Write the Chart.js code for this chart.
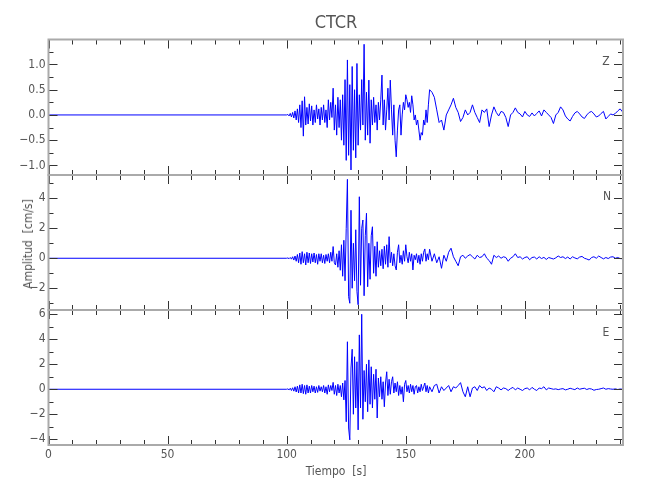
<!DOCTYPE html>
<html>
<head>
<meta charset="utf-8">
<script src="https://cdn.jsdelivr.net/npm/chart.js@4.4.1/dist/chart.umd.min.js"></script>
<style>
  body { margin: 0; background: #fff; }
  #wrap { position: relative; width: 650px; height: 500px; font-family: 'Liberation Sans Narrow', 'DejaVu Sans Condensed', sans-serif; color: #555; }
  canvas { position: absolute; left: 0; top: 0; }
  .txt { position: absolute; white-space: nowrap; line-height: 1; transform: translate(-50%, -50%); }
</style>
</head>
<body>
<div id="wrap">
  <canvas id="cz" width="650" height="500"></canvas>
  <canvas id="cn" width="650" height="500"></canvas>
  <canvas id="ce" width="650" height="500"></canvas>
  <div class="txt" style="left:336px; top:22px; font-size:18px;">CTCR</div>
  <div class="txt" style="left:28px; top:244px; font-size:12px; transform:translate(-50%,-50%) rotate(-90deg);">Amplitud&nbsp;&nbsp;[cm/s]</div>
  <div class="txt" style="left:336px; top:471px; font-size:12px;">Tiempo&nbsp;&nbsp;[s]</div>
  <div class="txt" style="left:606px; top:61px; font-size:12px;">Z</div>
  <div class="txt" style="left:607px; top:196px; font-size:12px;">N</div>
  <div class="txt" style="left:606px; top:332px; font-size:12px;">E</div>
</div>
<script>
// muestreo: cada 0.5 s entre 100 y 160 s, cada 1 s entre 161 y 241 s
const denseStart = 100, denseStep = 0.5;
const tailStart = 161, tailStep = 1;

const xTicks = [0, 50, 100, 150, 200];
const zTicks = [-1, -0.5, 0, 0.5, 1];
const nTicks = [-2, 0, 2, 4];
const eTicks = [-4, -2, 0, 2, 4, 6];

// componente Z
const zDense = [
  0, 0.01, -0.02, 0.03, -0.04, 0.05, -0.06, 0.08, -0.1, 0.12,
  -0.15, 0.2, -0.25, 0.28, -0.42, 0.36, -0.2, 0.15, -0.18, 0.22,
  -0.12, 0.18, -0.2, 0.1, -0.15, 0.2, -0.08, 0.12, -0.2, 0.15,
  -0.1, 0.2, -0.15, 0.1, -0.25, 0.3, -0.1, 0.25, -0.05, 0.53,
  -0.3, 0.2, -0.4, 0.35, -0.25, 0.3, -0.5, 0.4, -0.6, 0.7,
  -0.9, 1.09, -0.8, 0.6, -1.09, 0.96, -0.7, 0.5, -0.85, 1.02,
  -0.6, 0.4, -0.3, 0.7, -0.2, 1.40, -0.5, 0.45, -0.4, 0.69,
  -0.56, 0.3, -0.2, 0.35, -0.15, 0.2, -0.3, 0.25, -0.1, 0.3,
  0.79, -0.2, 0.3, -0.3, 0.1, 0.53, -0.1, 0.69, 0.1, -0.4,
  0.2, -0.5, -0.83, -0.3, 0.1, 0.2, -0.4, 0.0, 0.25, 0.1,
  0.4, 0.3, 0.15, 0.25, 0.05, 0.38, 0.2, -0.1, 0.0, -0.2,
  -0.1, -0.3, -0.5, -0.35, -0.4, -0.1, -0.2, 0.1, -0.15, 0.2,
  0.5
];
const zTail = [
  0.45, 0.35, 0.1, -0.15, -0.1, -0.3, 0.0, 0.1, 0.2, 0.33,
  0.15, 0.05, -0.13, -0.05, 0.1, 0.0, 0.05, 0.2, 0.05, -0.05,
  -0.15, 0.1, 0.05, 0.12, -0.23, 0.0, 0.16, 0.05, -0.02, 0.07,
  0.05, -0.05, -0.23, 0.0, 0.05, 0.14, 0.05, 0.02, -0.04, 0.07,
  0.0, -0.03, 0.04, -0.02, 0.03, 0.08, -0.02, 0.1, 0.05, 0.0,
  -0.05, -0.17, 0.0, 0.05, 0.16, 0.1, -0.02, -0.08, -0.12, -0.03,
  0.04, 0.07, 0.02, -0.04, -0.07, 0.0, 0.05, 0.07, 0.02, -0.04,
  -0.02, 0.03, 0.07, -0.08, -0.03, 0.02, 0.0, 0.03, 0.08, 0.12, 0.06
];

// componente N
const nDense = [
  0, 0.02, -0.03, 0.05, -0.06, 0.1, -0.12, 0.15, -0.2, 0.25,
  -0.3, 0.35, -0.4, 0.44, -0.3, 0.3, -0.45, 0.4, -0.3, 0.35,
  -0.35, 0.3, -0.25, 0.35, -0.3, 0.25, -0.4, 0.3, -0.2, 0.3,
  -0.3, 0.2, -0.35, 0.25, -0.2, 0.3, -0.3, 0.4, -0.2, 0.78,
  -0.3, -0.45, 0.3, -0.6, 0.5, -0.8, 0.9, -1.2, 1.2, -1.5,
  2.0, 5.26, -2.56, -3.0, 3.2, -2.0, 1.0, -1.5, 1.9, -2.2,
  -3.1, 4.1, -1.8, 2.0, 2.55, -2.5, 1.5, 3.0, -1.9, 1.0,
  -1.4, 1.5, 2.1, -1.0, 0.8, -1.2, 1.1, -0.6, 0.5, -0.5,
  0.6, -0.7, 0.8, -0.4, 0.9, -0.6, 1.44, -0.3, 0.4, -0.5,
  0.3, -0.5, -0.78, 0.4, 0.9, -0.3, 0.2, -0.4, 0.5, -0.2,
  0.9, 0.1, -0.3, 0.4, -0.2, 0.3, -0.78, 0.2, -0.1, 0.3,
  -0.3, 0.2, -0.4, 0.3, -0.2, 0.4, 0.62, -0.2, 0.3, -0.1,
  0.6
];
const nTail = [
  -0.2, 0.3, -0.3, 0.1, -0.67, 0.2, -0.2, 0.4, 0.67, 0.1,
  -0.2, -0.5, 0.1, 0.2, 0.0, 0.15, 0.25, 0.1, -0.05, 0.2,
  0.05, 0.1, 0.3, 0.0, -0.15, -0.4, 0.2, 0.05, 0.15, 0.0,
  0.1, 0.05, -0.2, 0.0, 0.1, 0.3, 0.05, 0.1, -0.05, 0.05,
  0.1, -0.1, 0.05, 0.08, -0.05, 0.1, -0.02, 0.06, -0.08, 0.05,
  0.0, -0.05, 0.03, 0.15, 0.05, 0.1, -0.02, 0.08, -0.05, 0.1,
  0.02, -0.04, 0.08, 0.12, 0.0, -0.05, -0.12, 0.05, 0.1, 0.0,
  0.15, 0.05, -0.04, 0.05, -0.02, 0.08, 0.1, 0.0, 0.05, -0.02, -0.03
];

// componente E
const eDense = [
  0, 0.03, -0.05, 0.08, -0.1, 0.12, -0.15, 0.2, -0.22, 0.25,
  -0.3, 0.35, -0.3, 0.4, -0.35, 0.3, -0.4, 0.35, -0.3, 0.25,
  -0.3, 0.3, -0.2, 0.25, -0.3, 0.2, -0.25, 0.3, -0.15, 0.2,
  -0.2, 0.3, -0.3, 0.2, -0.4, 0.35, -0.2, 0.3, -0.1, 0.55,
  -0.4, 0.3, -0.5, 0.4, -0.3, 0.3, -0.6, 0.5, -0.85, 0.7,
  -2.6, 3.8, -3.1, -4.05, 1.7, 3.2, -2.0, 2.6, -1.5, 2.2,
  -3.25, 4.35, -1.5, 6.0, -2.4, 1.5, -1.0, 2.0, -1.8, 2.35,
  -1.2, 1.8, -1.5, 1.2, -0.8, 1.6, -2.3, 0.9, -0.6, 1.0,
  -0.8, 0.6, -1.4, 0.5, 1.4, -0.5, 0.8, -0.4, 0.6, 1.0,
  -0.3, 0.5, -0.2, 0.6, -0.5, 0.3, -0.4, 0.2, -1.0, 0.4,
  0.7, -0.2, 0.3, -0.3, 0.4, -0.2, 0.3, -0.4, 0.2, 0.3,
  -0.3, 0.2, -0.2, 0.4, -0.1, 0.2, 0.5, -0.2, 0.3, -0.3,
  0.2
];
const eTail = [
  -0.2, 0.3, 0.4, -0.3, 0.2, -0.1, 0.1, 0.3, -0.2, 0.2,
  0.1, 0.3, 0.53, -0.2, -0.6, 0.2, -0.6, 0.1, 0.2, -0.1,
  0.3, 0.1, 0.2, -0.1, 0.1, 0.0, -0.2, 0.2, 0.1, -0.05,
  0.1, 0.05, -0.1, 0.05, 0.15, -0.05, 0.1, 0.0, -0.1, 0.05,
  0.1, -0.05, 0.15, 0.0, -0.1, 0.1, 0.05, 0.2, -0.05, 0.1,
  0.05, 0.0, 0.03, -0.03, 0.02, 0.05, -0.05, 0.0, 0.08, 0.02,
  -0.03, 0.1, 0.0, 0.05, 0.08, -0.02, 0.05, 0.02, -0.08, -0.02,
  0.0, 0.05, 0.1, 0.0, 0.05, 0.02, 0.0, 0.03, -0.02, 0.02, 0.0
];

function serie(dense, tail) {
  const pts = [{x: 0, y: 0}];
  dense.forEach((v, i) => pts.push({x: denseStart + i * denseStep, y: v}));
  tail.forEach((v, i) => pts.push({x: tailStart + i * tailStep, y: v}));
  return pts;
}

const fuente = {family: "'Liberation Sans Narrow', 'DejaVu Sans Condensed', sans-serif", size: 12};
const gris = '#555';
const menos = s => s.replace('-', '\u2212');

const paneles = [
  {id: 'cz', data: serie(zDense, zTail), min: -1.19, max: 1.495, ticks: zTicks, minor: 0.25, major: 2,
   top: 39.5, bottom: 175, fmt: v => menos(v.toFixed(1))},
  {id: 'cn', data: serie(nDense, nTail), min: -3.45, max: 5.55, ticks: nTicks, minor: 1, major: 2,
   top: 175, bottom: 310, fmt: v => menos(String(v))},
  {id: 'ce', data: serie(eDense, eTail), min: -4.46, max: 6.34, ticks: eTicks, minor: 1, major: 2,
   top: 310, bottom: 445, fmt: v => menos(String(v))}
];

// marco y marcas hacia dentro
function marco(p) {
  return {
    id: 'marco',
    afterDraw(chart) {
      const {ctx, chartArea: a, scales: {x, y}} = chart;
      ctx.save();
      ctx.strokeStyle = '#333';
      ctx.lineWidth = 1;
      ctx.beginPath();
      for (let v = 0; v <= 240; v += 10) {
        const px = Math.round(x.getPixelForValue(v)) + 0.5;
        const len = v % 50 === 0 ? 9 : 5;
        ctx.moveTo(px, a.top); ctx.lineTo(px, a.top + len);
        ctx.moveTo(px, a.bottom); ctx.lineTo(px, a.bottom - len);
      }
      const k0 = Math.ceil(p.min / p.minor), k1 = Math.floor(p.max / p.minor);
      for (let k = k0; k <= k1; k++) {
        const py = Math.round(y.getPixelForValue(k * p.minor)) + 0.5;
        const len = k % p.major === 0 ? 9 : 5;
        ctx.moveTo(a.left, py); ctx.lineTo(a.left + len, py);
        ctx.moveTo(a.right, py); ctx.lineTo(a.right - len, py);
      }
      ctx.stroke();
      ctx.strokeStyle = '#aaa';
      ctx.lineWidth = 2;
      ctx.strokeRect(a.left, a.top, a.width, a.height);
      ctx.restore();
    }
  };
}

paneles.forEach((p, i) => {
  const ultimo = i === paneles.length - 1;
  new Chart(document.getElementById(p.id), {
    type: 'line',
    data: {
      datasets: [{
        data: p.data,
        borderColor: '#0000ff',
        borderWidth: 1,
        pointRadius: 0,
        tension: 0,
        fill: false
      }]
    },
    options: {
      responsive: false,
      animation: false,
      events: [],
      layout: {padding: {top: p.top, bottom: ultimo ? 500 - p.bottom - 30 : 500 - p.bottom, left: 0, right: 27}},
      plugins: {legend: {display: false}, tooltip: {enabled: false}},
      scales: {
        x: {
          type: 'linear',
          min: 0,
          max: 241.2,
          display: ultimo,
          afterBuildTicks: s => { s.ticks = xTicks.map(v => ({value: v})); },
          afterFit: s => { s.height = ultimo ? 30 : 0; },
          grid: {display: false, drawTicks: false},
          border: {display: false},
          ticks: {font: fuente, color: gris, padding: 3, maxRotation: 0}
        },
        y: {
          min: p.min,
          max: p.max,
          afterBuildTicks: s => { s.ticks = p.ticks.map(v => ({value: v})); },
          afterFit: s => { s.width = 48.5; },
          grid: {display: false, drawTicks: false},
          border: {display: false},
          ticks: {font: fuente, color: gris, padding: 3, callback: v => p.fmt(v)}
        }
      }
    },
    plugins: [marco(p)]
  });
});
</script>
</body>
</html>
